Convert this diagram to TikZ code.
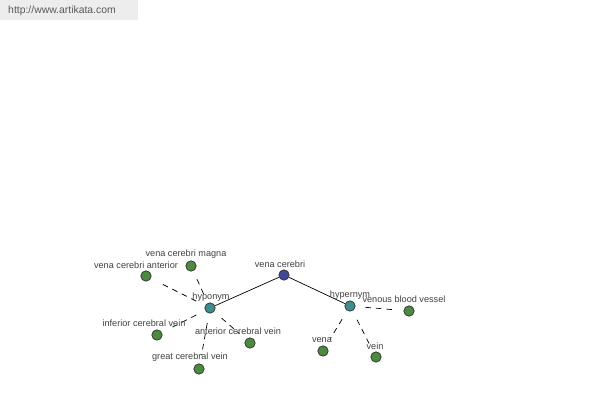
\documentclass[tikz,border=0pt]{standalone}
\usepackage{fontspec}
\setmainfont{Liberation Sans}
\usetikzlibrary{positioning}
\definecolor{rootblue}{HTML}{3E4A94}
\definecolor{relteal}{HTML}{3F8C8C}
\definecolor{leafgreen}{HTML}{4C8A40}
\definecolor{txtgray}{HTML}{404040}

\begin{document}
\begin{tikzpicture}[x=0.025cm, y=-0.025cm,
    dot/.style={circle, draw=black!80, line width=0.5pt, minimum size=0.26cm, inner sep=0pt},
    rootdot/.style={dot, fill=rootblue},
    reldot/.style={dot, fill=relteal},
    leafdot/.style={dot, fill=leafgreen},
    lbl/.style={font=\fontsize{6.5}{7}\selectfont, text=txtgray, inner sep=0pt},
    solidlink/.style={black, line width=0.5pt},
    dashlink/.style={black, line width=0.5pt, dashed, dash pattern=on 4pt off 3.5pt, shorten <=7pt, shorten >=6pt}]
    \useasboundingbox (0,0) rectangle (600,400);
    % Watermark
    \fill[black!7] (0,0) rectangle (138,20);
    \node[font=\fontsize{7.4}{8}\selectfont, text=black!65, inner sep=0pt] (site) at (62,11) {http://www.artikata.com};
    % Nodes
    \node[rootdot] (root) at (284,275) {};
    \node[reldot]  (hypo) at (210,308) {};
    \node[reldot]  (hyper) at (350,306) {};
    \node[leafdot] (anterior) at (146,276) {};
    \node[leafdot] (magna) at (191,266) {};
    \node[leafdot] (inferior) at (157,335) {};
    \node[leafdot] (antvein) at (250,343) {};
    \node[leafdot] (great) at (199,369) {};
    \node[leafdot] (vessel) at (409,311) {};
    \node[leafdot] (vena) at (323,351) {};
    \node[leafdot] (vein) at (376,357) {};
    % Links
    \draw[solidlink] (root) -- (hypo);
    \draw[solidlink] (root) -- (hyper);
    \draw[dashlink] (hypo) -- (anterior);
    \draw[dashlink] (hypo) -- (magna);
    \draw[dashlink] (hypo) -- (inferior);
    \draw[dashlink] (hypo) -- (antvein);
    \draw[dashlink] (hypo) -- (great);
    \draw[dashlink] (hyper) -- (vessel);
    \draw[dashlink] (hyper) -- (vena);
    \draw[dashlink] (hyper) -- (vein);
    % Labels
    \node[lbl] (l-root) at (280,264) {vena cerebri};
    \node[lbl] (l-hypo) at (211,297) {hyponym};
    \node[lbl] (l-hyper) at (350,295) {hypernym};
    \node[lbl] (l-anterior) at (136,265) {vena cerebri anterior};
    \node[lbl] (l-magna) at (186,254) {vena cerebri magna};
    \node[lbl] (l-inferior) at (144,323) {inferior cerebral vein};
    \node[lbl] (l-antvein) at (238,331) {anterior cerebral vein};
    \node[lbl] (l-great) at (190,357) {great cerebral vein};
    \node[lbl] (l-vessel) at (404,299) {venous blood vessel};
    \node[lbl] (l-vena) at (322,340) {vena};
    \node[lbl] (l-vein) at (375,346) {vein};
\end{tikzpicture}
\end{document}
